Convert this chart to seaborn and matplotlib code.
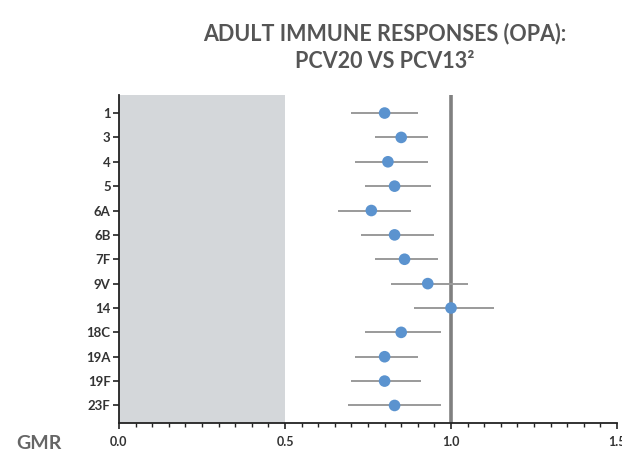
import matplotlib
matplotlib.use("Agg")
import matplotlib.pyplot as plt
from matplotlib.ticker import MultipleLocator
import seaborn as sns
import pandas as pd

serotypes = ["1", "3", "4", "5", "6A", "6B", "7F", "9V", "14", "18C", "19A", "19F", "23F"]
gmr = [0.80, 0.85, 0.81, 0.83, 0.76, 0.83, 0.86, 0.93, 1.00, 0.85, 0.80, 0.80, 0.83]
ci_low = [0.70, 0.77, 0.71, 0.74, 0.66, 0.73, 0.77, 0.82, 0.89, 0.74, 0.71, 0.70, 0.69]
ci_high = [0.90, 0.93, 0.93, 0.94, 0.88, 0.95, 0.96, 1.05, 1.13, 0.97, 0.90, 0.91, 0.97]
x_ticks = [0.0, 0.5, 1.0, 1.5]
x_tick_labels = ["0.0", "0.5", "1.0", "1.5"]

df = pd.DataFrame({"serotype": serotypes, "gmr": gmr, "lo": ci_low, "hi": ci_high})

sns.set_theme(style="ticks")
plt.rcParams['font.family'] = ['Lato', 'DejaVu Sans']

fig = plt.figure(figsize=(6.22, 4.72), dpi=100)
ax = fig.add_axes([0.1913, 0.1038, 0.8007, 0.6949])

ax.axvspan(0, 0.5, color="#d4d7da", zorder=0, lw=0)
ax.axvline(1.0, color="#808080", lw=2.6, zorder=1)
ax.hlines(df["serotype"], df["lo"], df["hi"], color="#9a9a9a", lw=1.4, zorder=2)
sns.scatterplot(data=df, x="gmr", y="serotype", ax=ax, color="#5b93cf",
                s=70, edgecolor="none", zorder=3, legend=False)

ax.set_xlim(0, 1.5)
ax.set_ylim(12.72, -0.74)
ax.set_xticks(x_ticks)
ax.set_xticklabels(x_tick_labels, fontsize=9, fontweight="bold", color="#333333")
ax.xaxis.set_minor_locator(MultipleLocator(0.05))
ax.tick_params(axis="x", which="major", direction="out", length=4, width=1.2, bottom=True,
               pad=5, color="#222222")
ax.tick_params(axis="x", which="minor", direction="out", length=3, width=1, bottom=True,
               color="#222222")
ax.tick_params(axis="y", which="major", direction="out", length=4, width=1.2, left=True, pad=2,
               labelsize=9.5, color="#222222")
for lab in ax.get_yticklabels():
    lab.set_fontweight("bold")
    lab.set_color("#333333")
ax.set_xlabel("")
ax.set_ylabel("")

for s in ["top", "right"]:
    ax.spines[s].set_visible(False)
for s in ["left", "bottom"]:
    ax.spines[s].set_color("#222222")
    ax.spines[s].set_linewidth(1.3)

fig.text(0.619, 0.93, "ADULT IMMUNE RESPONSES (OPA):", ha="center", va="center",
         fontsize=15.5, fontweight="bold", color="#555555")
fig.text(0.619, 0.870, "PCV20 VS PCV13²", ha="center", va="center",
         fontsize=15.5, fontweight="bold", color="#555555")
fig.text(0.062, 0.061, "GMR", ha="center", va="center", fontsize=14, fontweight="bold",
         color="#666666")

fig.savefig("out.png", dpi=100)
